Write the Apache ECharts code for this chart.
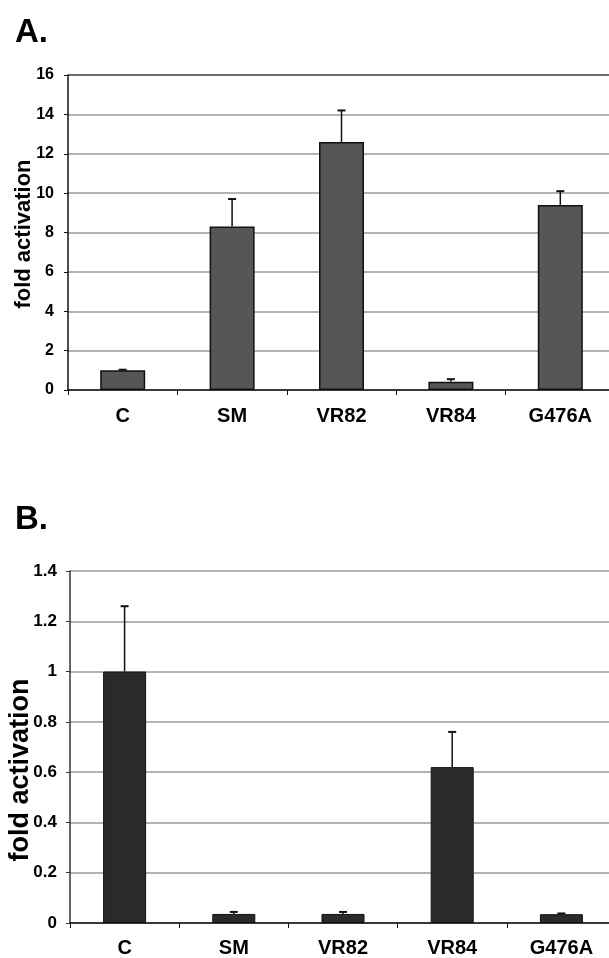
<!DOCTYPE html>
<html lang="en">
<head>
    <meta charset="UTF-8">
    <title>fold activation</title>
    <script src="https://cdn.jsdelivr.net/npm/echarts@6/dist/echarts.min.js"></script>
    <style>
        *{
            margin: 0;
            padding: 0;
        }
        body{
            background-color: #fff;
            overflow: hidden;
        }
        #main{
            width: 609px;
            height: 958px;
        }
    </style>
</head>
<body>
<div id="main"></div>

<script>
    // categories shared by both panels
    var categories = ['C', 'SM', 'VR82', 'VR84', 'G476A'];

    // panel A
    var valuesA = [1.0, 8.3, 12.6, 0.42, 9.4];
    var errorsA = [0.03, 1.4, 1.6, 0.13, 0.7];
    var ticksA = [0, 2, 4, 6, 8, 10, 12, 14, 16];

    // panel B
    var valuesB = [1.0, 0.036, 0.036, 0.62, 0.035];
    var errorsB = [0.26, 0.008, 0.008, 0.14, 0.003];
    var ticksB = [0, 0.2, 0.4, 0.6, 0.8, 1.0, 1.2, 1.4];

    var yTitle = 'fold activation';
    var font = 'Liberation Sans, Arial, Helvetica, sans-serif';

    // error bar (upper half only, with a small cap)
    function errorBar(params, api) {
        var v = api.value(1);
        var hi = api.value(2);
        var p0 = api.coord([api.value(0), v]);
        var p1 = api.coord([api.value(0), hi]);
        var half = 4;
        return {
            type: 'group',
            children: [
                {type: 'line', shape: {x1: p0[0], y1: p0[1], x2: p1[0], y2: p1[1]},
                    style: {stroke: '#111', lineWidth: 1.5}},
                {type: 'line', shape: {x1: p1[0] - half, y1: p1[1], x2: p1[0] + half, y2: p1[1]},
                    style: {stroke: '#111', lineWidth: 2}}
            ]
        };
    }

    function errData(vals, errs) {
        return vals.map(function (v, i) { return [i, v, v + errs[i]]; });
    }

    function gridColors(n, topColor) {
        var c = [];
        for (var i = 0; i < n - 1; i++) c.push('#9a9a9a');
        c.push(topColor);
        return c;
    }

    var myChart = echarts.init(document.getElementById('main'));

    var option = {
        animation: false,
        backgroundColor: '#fff',
        textStyle: {fontFamily: font},
        title: [
            {text: 'A.', left: 10, top: 11,
                textStyle: {fontSize: 33, fontWeight: 'bold', color: '#000', fontFamily: font}},
            {text: 'B.', left: 10, top: 498,
                textStyle: {fontSize: 33, fontWeight: 'bold', color: '#000', fontFamily: font}}
        ],
        // rotated y axis titles
        graphic: [
            {type: 'text', x: 24, y: 234, rotation: Math.PI / 2,
                style: {text: yTitle, fill: '#000', font: 'bold 22px ' + font,
                    textAlign: 'center', textVerticalAlign: 'middle'}},
            {type: 'text', x: 21, y: 770, rotation: Math.PI / 2,
                style: {text: yTitle, fill: '#000', font: 'bold 27px ' + font,
                    textAlign: 'center', textVerticalAlign: 'middle'}}
        ],
        grid: [
            {left: 68, top: 75, right: -6, bottom: 568, outerBoundsMode: 'none'},
            {left: 70, top: 571, right: -7, bottom: 35, outerBoundsMode: 'none'}
        ],
        xAxis: [
            {
                type: 'category', gridIndex: 0, data: categories,
                axisLine: {lineStyle: {color: '#111', width: 1.5}},
                axisTick: {show: true, length: 5, lineStyle: {color: '#111'}},
                axisLabel: {color: '#000', fontSize: 20, fontWeight: 'bold', margin: 16, fontFamily: font}
            },
            {
                type: 'category', gridIndex: 1, data: categories,
                axisLine: {lineStyle: {color: '#111', width: 1.5}},
                axisTick: {show: true, length: 5, lineStyle: {color: '#111'}},
                axisLabel: {color: '#000', fontSize: 20, fontWeight: 'bold', margin: 15, fontFamily: font}
            }
        ],
        yAxis: [
            {
                type: 'value', gridIndex: 0, min: ticksA[0], max: ticksA[ticksA.length - 1], interval: 2,
                axisLine: {show: true, lineStyle: {color: '#111', width: 1.5}},
                axisTick: {show: true, length: 4, lineStyle: {color: '#111'}},
                axisLabel: {color: '#000', fontSize: 16, fontWeight: 'bold', margin: 14, fontFamily: font},
                splitLine: {lineStyle: {color: gridColors(ticksA.length, '#3a3a3a'), width: 1.5}}
            },
            {
                type: 'value', gridIndex: 1, min: ticksB[0], max: ticksB[ticksB.length - 1], interval: 0.2,
                axisLine: {show: true, lineStyle: {color: '#333', width: 1.5}},
                axisTick: {show: true, length: 4, lineStyle: {color: '#333'}},
                axisLabel: {color: '#000', fontSize: 17, fontWeight: 'bold', margin: 13, fontFamily: font,
                    formatter: function (v) { return String(Math.round(v * 10) / 10); }},
                splitLine: {lineStyle: {color: '#9a9a9a', width: 1.5}}
            }
        ],
        series: [
            {
                type: 'bar', xAxisIndex: 0, yAxisIndex: 0, data: valuesA, barWidth: 45,
                itemStyle: {color: '#565656', borderColor: '#111', borderWidth: 1.5}
            },
            {
                type: 'custom', xAxisIndex: 0, yAxisIndex: 0, renderItem: errorBar,
                data: errData(valuesA, errorsA), encode: {x: 0, y: [1, 2]}, z: 3
            },
            {
                type: 'bar', xAxisIndex: 1, yAxisIndex: 1, data: valuesB, barWidth: 43,
                itemStyle: {color: '#2a2a2a', borderColor: '#111', borderWidth: 1}
            },
            {
                type: 'custom', xAxisIndex: 1, yAxisIndex: 1, renderItem: errorBar,
                data: errData(valuesB, errorsB), encode: {x: 0, y: [1, 2]}, z: 3
            }
        ]
    };

    myChart.setOption(option);
</script>
</body>
</html>
